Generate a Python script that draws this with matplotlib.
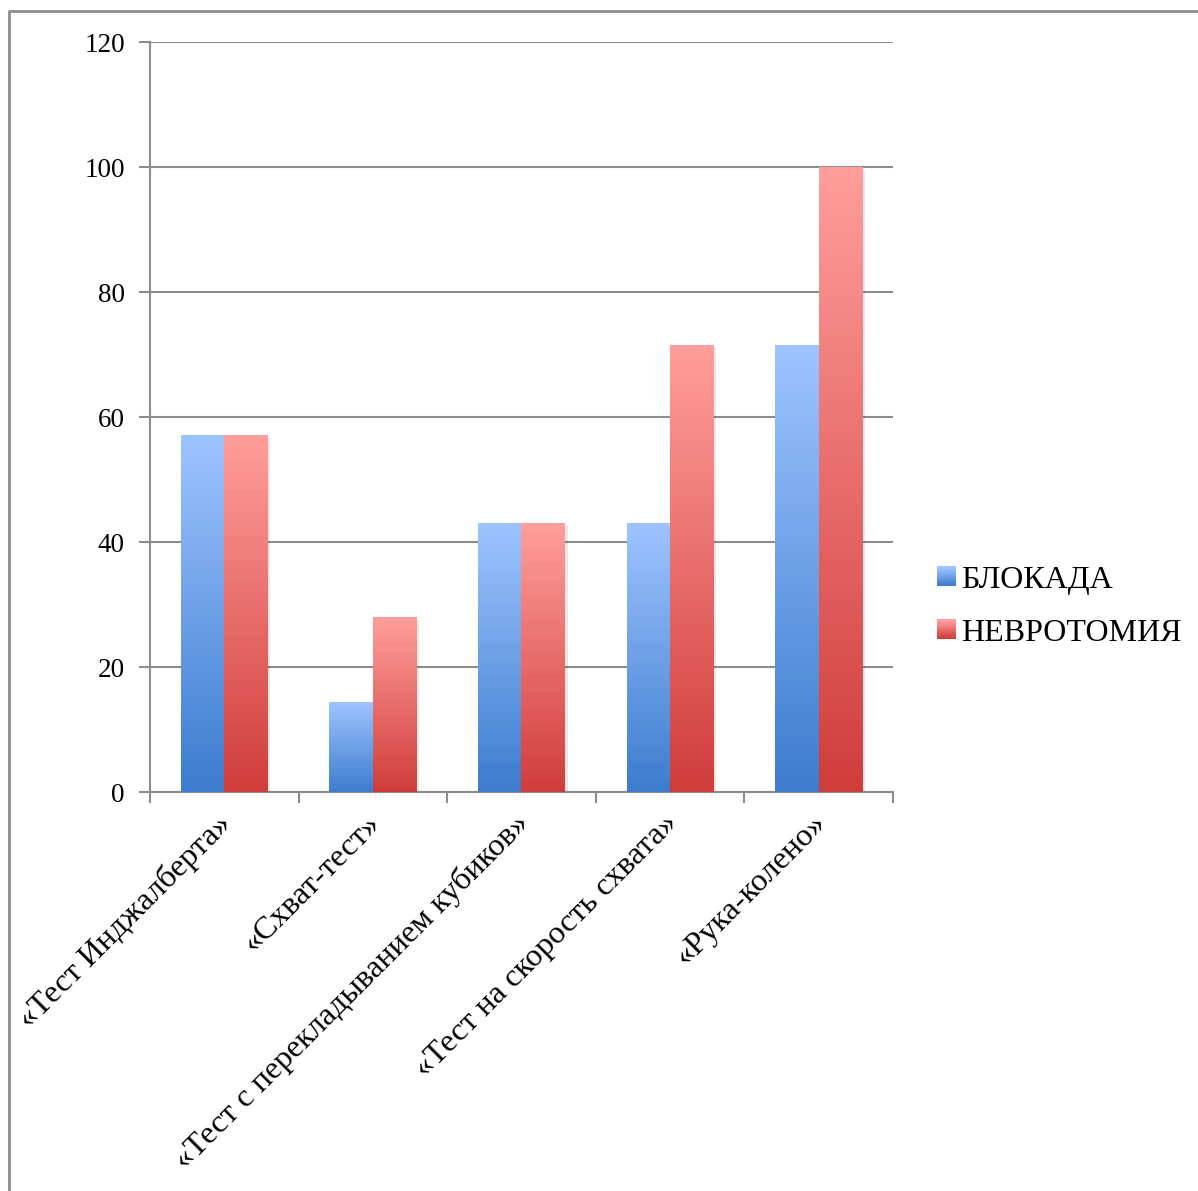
import numpy as np
import matplotlib
matplotlib.use("Agg")
import matplotlib.pyplot as plt
from matplotlib.colors import LinearSegmentedColormap
from matplotlib.legend_handler import HandlerBase
from matplotlib.patches import Rectangle
import matplotlib.transforms as mtransforms

# -----------------------------
# Data
# -----------------------------
categories = [
    "«Тест Инджалберта»",
    "«Схват-тест»",
    "«Тест с перекладыванием кубиков»",
    "«Тест на скорость схвата»",
    "«Рука-колено»",
]
series_names = ["БЛОКАДА", "НЕВРОТОМИЯ"]
blokada = [57.1, 14.3, 42.9, 42.9, 71.4]
nevrotomiya = [57.1, 28.0, 42.9, 71.4, 100.0]
y_ticks = [0, 20, 40, 60, 80, 100, 120]

# gradient colours: (bottom, top)
grad_colors = [("#3d7cce", "#9ec4ff"), ("#d03d3b", "#ff9e9c")]

plt.rcParams["font.family"] = ["Liberation Serif", "DejaVu Serif"]

fig = plt.figure(figsize=(11.98, 11.91), dpi=100)
ax = fig.add_axes([0.1252, 0.335, 0.6202, 0.6297])

n = len(categories)
x = np.arange(n)
width = 0.293
grid_col = "#8c8c8c"


def gradient_bar(ax, xc, h, w, c_bottom, c_top):
    cmap = LinearSegmentedColormap.from_list("g", [c_bottom, c_top])
    # soft drop shadow to the lower right
    shadow_tr = ax.transData + mtransforms.ScaledTranslation(2.5 / 100, -2.5 / 100, fig.dpi_scale_trans)
    ax.add_patch(Rectangle((xc - w / 2, 0), w, h, facecolor="#000000", alpha=0.09,
                           edgecolor="none", transform=shadow_tr, zorder=2))
    grad = np.linspace(0, 1, 256).reshape(-1, 1)
    ax.imshow(grad, cmap=cmap, origin="lower", aspect="auto",
              extent=(xc - w / 2, xc + w / 2, 0, h), zorder=3, interpolation="bicubic")


for i, (vals, cols) in enumerate(zip([blokada, nevrotomiya], grad_colors)):
    offs = (i - 0.5) * width
    for xc, v in zip(x + offs, vals):
        gradient_bar(ax, xc, v, width, cols[0], cols[1])

ax.set_xlim(-0.5, n - 0.5)
ax.set_ylim(0, 120)

# y axis
ax.set_yticks(y_ticks)
ax.yaxis.grid(True, color=grid_col, linewidth=1.5)
ax.set_axisbelow(True)
ax.tick_params(axis="y", length=8, width=1.5, color=grid_col, labelsize=19.5, pad=10)

# x axis: tick marks on category boundaries, labels at centres
ax.set_xticks(np.arange(-0.5, n, 1.0))
ax.set_xticklabels([])
ax.tick_params(axis="x", which="major", length=8, width=1.5, color=grid_col)
ax.set_xticks(x, minor=True)
ax.set_xticklabels(categories, minor=True, rotation=45, ha="right",
                   rotation_mode="anchor", fontsize=23.3)
ax.tick_params(axis="x", which="minor", length=0, pad=14)
for lbl in ax.get_xticklabels(minor=True):
    lbl.set_va("center")
    lbl.set_transform(lbl.get_transform() + mtransforms.ScaledTranslation(3 / 100, -8 / 100, fig.dpi_scale_trans))

for s in ["top", "right"]:
    ax.spines[s].set_visible(False)
for s in ["left", "bottom"]:
    ax.spines[s].set_color(grid_col)
    ax.spines[s].set_linewidth(1.5)


class GradientHandler(HandlerBase):
    def __init__(self, c_bottom, c_top):
        super().__init__()
        self.cmap = LinearSegmentedColormap.from_list("g", [c_bottom, c_top])

    def create_artists(self, legend, orig_handle, xdescent, ydescent, width, height, fontsize, trans):
        steps = 20
        side = height
        x0 = width - side
        arts = []
        for k in range(steps):
            arts.append(Rectangle((x0, -ydescent + side * k / steps), side, side / steps + 0.3,
                                  facecolor=self.cmap(k / (steps - 1)), edgecolor="none",
                                  transform=trans))
        return arts


handles = [Rectangle((0, 0), 1, 1) for _ in series_names]
fig.legend(handles, series_names, loc="center left", bbox_to_anchor=(0.7595, 0.4905),
           frameon=False, fontsize=23, handlelength=0.55, handleheight=0.55,
           handletextpad=0.15, labelspacing=0.75,
           handler_map={h: GradientHandler(*c) for h, c in zip(handles, grad_colors)})

# outer chart frame
fig.add_artist(plt.Line2D([0.0075, 0.0075, 1.0], [0.0, 0.9905, 0.9905],
                          transform=fig.transFigure, color="#8c8c8c", linewidth=2))

fig.savefig("out.png", dpi=100)
